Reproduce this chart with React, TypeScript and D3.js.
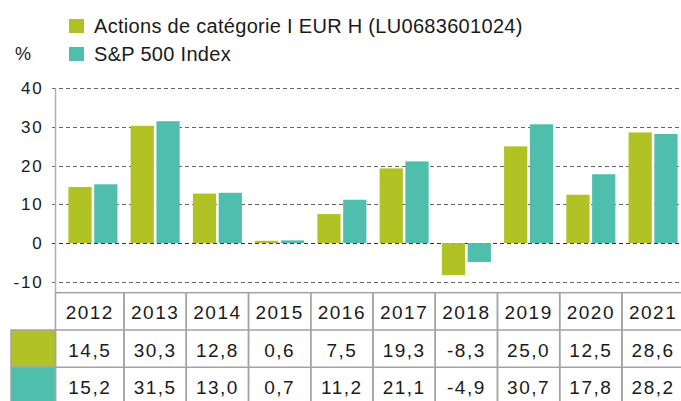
import React from 'react';
import * as d3 from 'd3';

const years = ['2012', '2013', '2014', '2015', '2016', '2017', '2018', '2019', '2020', '2021'];
const fundValues = [14.5, 30.3, 12.8, 0.6, 7.5, 19.3, -8.3, 25.0, 12.5, 28.6];
const indexValues = [15.2, 31.5, 13.0, 0.7, 11.2, 21.1, -4.9, 30.7, 17.8, 28.2];
const seriesNames = ['Actions de catégorie I EUR H (LU0683601024)', 'S&P 500 Index'];
const seriesColors = ['#b0c224', '#50bead'];
const yTicks = [-10, 0, 10, 20, 30, 40];
const unitLabel = '%';

const W = 681;
const H = 401;
const FONT = '"Liberation Sans", Arial, Helvetica, sans-serif';

export default function App() {
  const series = [fundValues, indexValues];
  const axisX = 55.5;
  const y = d3.scaleLinear().domain([-10, 40]).range([281.8, 88.3]);
  const x = d3.scaleBand<string>().domain(years).range([61.8, 684.2]).paddingInner(0).paddingOuter(0);
  const step = x.bandwidth();
  const sub = d3.scaleBand<number>().domain([0, 1]).range([6.6, step - 6.6]).paddingInner(0.1);
  const fmt = (v: number) => v.toFixed(1).replace('.', ',');

  const tableTop = 292.7;
  const rowH = 37.3;
  const rows = [tableTop, tableTop + rowH, tableTop + 2 * rowH, tableTop + 3 * rowH];
  const colLeft = (i: number) => (i === 0 ? axisX : (x(years[i]) as number));
  const colRight = (i: number) => (x(years[i]) as number) + step;
  const border = '#a3a3a3';

  return (
    <svg width={W} height={H} style={{ position: 'absolute', left: 0, top: 0, background: '#fff' }} fontFamily={FONT}>
      {/* legend */}
      {seriesNames.map((name, i) => (
        <g key={name}>
          <rect x={69} y={19 + i * 28} width={15} height={14} fill={seriesColors[i]} />
          <text x={94} y={33 + i * 28} fontSize={20} letterSpacing={0.3} fill="#1a1a1a">{name}</text>
        </g>
      ))}
      <text x={15} y={60} fontSize={18} fill="#1a1a1a">{unitLabel}</text>

      {/* gridlines and y ticks */}
      {yTicks.map((t) => (
        <g key={t}>
          <line x1={52} x2={W} y1={Math.round(y(t)) + 0.5} y2={Math.round(y(t)) + 0.5} stroke={t === 0 ? '#333' : '#666'} strokeWidth={1.2} strokeDasharray="4 3" />
          <text x={43.5} y={y(t) + 6} fontSize={17} letterSpacing={1.8} textAnchor="end" fill="#1a1a1a">{t}</text>
        </g>
      ))}

      {/* bars */}
      {years.map((yr, i) => (
        <g key={yr} transform={`translate(${x(yr)},0)`}>
          {series.map((s, j) => {
            const v = s[i];
            const y0 = y(0);
            const y1 = y(v);
            return (
              <rect key={j} x={sub(j)} width={sub.bandwidth()} y={Math.min(y0, y1)} height={Math.abs(y1 - y0)} fill={seriesColors[j]} />
            );
          })}
        </g>
      ))}

      {/* y axis */}
      <line x1={axisX} x2={axisX} y1={y(40)} y2={tableTop} stroke="#b0b0b0" strokeWidth={1.5} />

      {/* table */}
      {years.map((yr, i) => (
        <g key={yr}>
          <rect x={colLeft(i)} y={rows[0]} width={colRight(i) - colLeft(i)} height={rowH * 3} fill="none" stroke={border} strokeWidth={1.5} />
          <line x1={colLeft(i)} x2={colRight(i)} y1={rows[1]} y2={rows[1]} stroke={border} strokeWidth={1.5} />
          <line x1={colLeft(i)} x2={colRight(i)} y1={rows[2]} y2={rows[2]} stroke={border} strokeWidth={1.5} />
          <text x={(colLeft(i) + colRight(i)) / 2} y={rows[0] + 26.6} fontSize={19} letterSpacing={1.5} textAnchor="middle" fill="#1a1a1a">{yr}</text>
          {series.map((s, j) => (
            <text key={j} x={(colLeft(i) + colRight(i)) / 2} y={rows[j + 1] + 26.6} fontSize={19} letterSpacing={1.5} textAnchor="middle" fill="#1a1a1a">{fmt(s[i])}</text>
          ))}
        </g>
      ))}
      {series.map((_, j) => (
        <rect key={j} x={11} y={rows[j + 1]} width={axisX - 11} height={rowH} fill={seriesColors[j]} stroke={border} strokeWidth={1.5} />
      ))}
    </svg>
  );
}
